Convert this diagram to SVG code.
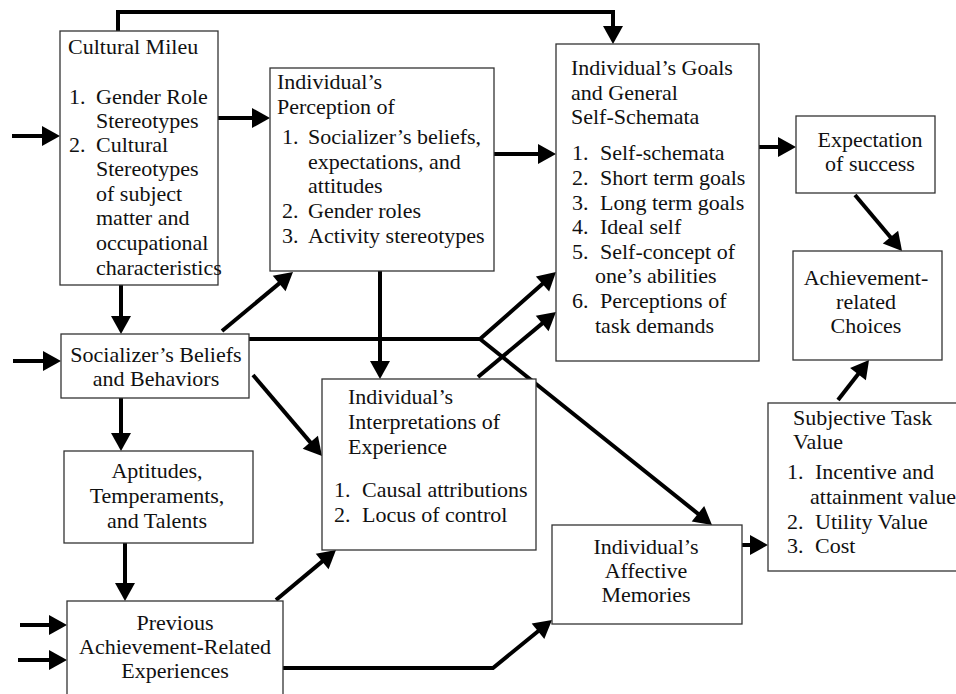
<svg xmlns="http://www.w3.org/2000/svg" width="956" height="694" viewBox="0 0 956 694">
<style>
  .box { fill: #fff; stroke: #333; stroke-width: 1.3; }
  .t { font-family: "Liberation Serif", "Times New Roman", serif; font-size: 22px; fill: #111; }
  .c { text-anchor: middle; }
  .edge { fill: none; stroke: #000; stroke-width: 4; stroke-linejoin: miter; marker-end: url(#ah); }
</style>
<defs>
  <marker id="ah" markerUnits="userSpaceOnUse" markerWidth="20" markerHeight="22" refX="8" refY="10" orient="auto" overflow="visible">
    <path d="M0,0 L18,10 L0,20 Z" fill="#000"/>
  </marker>
</defs>
<rect width="956" height="694" fill="#fff"/>

<g id="connectors">
  <path class="edge" d="M118,31 V12 H613 V34"/>
  <path class="edge" d="M12,136 H50"/>
  <path class="edge" d="M218,118 H260"/>
  <path class="edge" d="M494,154 H546"/>
  <path class="edge" d="M759,147 H786"/>
  <path class="edge" d="M855,195 L895.6,243.3"/>
  <path class="edge" d="M838,400 L862.9,367.9"/>
  <path class="edge" d="M121,285 V324"/>
  <path class="edge" d="M13,361 H51"/>
  <path class="edge" d="M121,398 V441"/>
  <path class="edge" d="M125,543 V591"/>
  <path class="edge" d="M20,625 H57"/>
  <path class="edge" d="M18,660 H57"/>
  <path class="edge" d="M222,331 L285.3,278.4"/>
  <path class="edge" d="M249,339 H480 L548.5,278.6"/>
  <path class="edge" d="M480,339 L704.2,518.7"/>
  <path class="edge" d="M380,271 V369"/>
  <path class="edge" d="M478,377 L548.3,318.4"/>
  <path class="edge" d="M253,375 L315.5,448.4"/>
  <path class="edge" d="M276,600 L328.3,556.4"/>
  <path class="edge" d="M283,668 H493 L544.2,626.3"/>
  <path class="edge" d="M742,545 H758"/>
</g>

<g id="cultural-mileu">
  <rect class="box" x="60" y="31" width="158" height="254"/>
  <text class="t" x="68" y="54">Cultural Mileu</text>
  <text class="t" x="69" y="104">1.</text>
  <text class="t" x="96" y="104">Gender Role</text>
  <text class="t" x="96" y="128">Stereotypes</text>
  <text class="t" x="69" y="152">2.</text>
  <text class="t" x="96" y="152">Cultural</text>
  <text class="t" x="96" y="176">Stereotypes</text>
  <text class="t" x="96" y="201">of subject</text>
  <text class="t" x="96" y="225">matter and</text>
  <text class="t" x="96" y="250">occupational</text>
  <text class="t" x="96" y="275">characteristics</text>
</g>

<g id="perception">
  <rect class="box" x="270" y="68" width="224" height="203"/>
  <text class="t" x="277" y="89">Individual’s</text>
  <text class="t" x="277" y="114">Perception of</text>
  <text class="t" x="282" y="144">1.</text>
  <text class="t" x="308" y="144">Socializer’s beliefs,</text>
  <text class="t" x="308" y="169">expectations, and</text>
  <text class="t" x="308" y="193">attitudes</text>
  <text class="t" x="282" y="218">2.</text>
  <text class="t" x="308" y="218">Gender roles</text>
  <text class="t" x="282" y="243">3.</text>
  <text class="t" x="308" y="243">Activity stereotypes</text>
</g>

<g id="goals">
  <rect class="box" x="556" y="44" width="203" height="317"/>
  <text class="t" x="571" y="75">Individual’s Goals</text>
  <text class="t" x="571" y="100">and General</text>
  <text class="t" x="571" y="124">Self-Schemata</text>
  <text class="t" x="572" y="160">1.</text>
  <text class="t" x="600" y="160">Self-schemata</text>
  <text class="t" x="572" y="185">2.</text>
  <text class="t" x="600" y="185">Short term goals</text>
  <text class="t" x="572" y="210">3.</text>
  <text class="t" x="600" y="210">Long term goals</text>
  <text class="t" x="572" y="234">4.</text>
  <text class="t" x="600" y="234">Ideal self</text>
  <text class="t" x="572" y="259">5.</text>
  <text class="t" x="600" y="259">Self-concept of</text>
  <text class="t" x="595" y="283">one’s abilities</text>
  <text class="t" x="572" y="308">6.</text>
  <text class="t" x="600" y="308">Perceptions of</text>
  <text class="t" x="595" y="333">task demands</text>
</g>

<g id="expectation">
  <rect class="box" x="796" y="116" width="139" height="77"/>
  <text class="t c" x="870" y="147">Expectation</text>
  <text class="t c" x="870" y="171">of success</text>
</g>

<g id="achievement-choices">
  <rect class="box" x="793" y="251" width="149" height="109"/>
  <text class="t c" x="866" y="285">Achievement-</text>
  <text class="t c" x="866" y="309">related</text>
  <text class="t c" x="866" y="333">Choices</text>
</g>

<g id="socializer">
  <rect class="box" x="61" y="334" width="188" height="64"/>
  <text class="t c" x="156" y="362">Socializer’s Beliefs</text>
  <text class="t c" x="156" y="386">and Behaviors</text>
</g>

<g id="aptitudes">
  <rect class="box" x="64" y="451" width="189" height="92"/>
  <text class="t c" x="157" y="478">Aptitudes,</text>
  <text class="t c" x="157" y="503">Temperaments,</text>
  <text class="t c" x="157" y="528">and Talents</text>
</g>

<g id="previous">
  <rect class="box" x="67" y="601" width="216" height="100"/>
  <text class="t c" x="175" y="630">Previous</text>
  <text class="t c" x="175" y="654">Achievement-Related</text>
  <text class="t c" x="175" y="678">Experiences</text>
</g>

<g id="interpretations">
  <rect class="box" x="322" y="379" width="214" height="171"/>
  <text class="t" x="348" y="404">Individual’s</text>
  <text class="t" x="348" y="429">Interpretations of</text>
  <text class="t" x="348" y="454">Experience</text>
  <text class="t" x="334" y="497">1.</text>
  <text class="t" x="362" y="497">Causal attributions</text>
  <text class="t" x="334" y="522">2.</text>
  <text class="t" x="362" y="522">Locus of control</text>
</g>

<g id="affective">
  <rect class="box" x="552" y="525" width="190" height="99"/>
  <text class="t c" x="646" y="554">Individual’s</text>
  <text class="t c" x="646" y="578">Affective</text>
  <text class="t c" x="646" y="602">Memories</text>
</g>

<g id="subjective-value">
  <rect class="box" x="768" y="403" width="190" height="168"/>
  <text class="t" x="793" y="425">Subjective Task</text>
  <text class="t" x="793" y="449">Value</text>
  <text class="t" x="787" y="479">1.</text>
  <text class="t" x="815" y="479">Incentive and</text>
  <text class="t" x="810" y="504">attainment value</text>
  <text class="t" x="787" y="529">2.</text>
  <text class="t" x="815" y="529">Utility Value</text>
  <text class="t" x="787" y="553">3.</text>
  <text class="t" x="815" y="553">Cost</text>
</g>
</svg>
